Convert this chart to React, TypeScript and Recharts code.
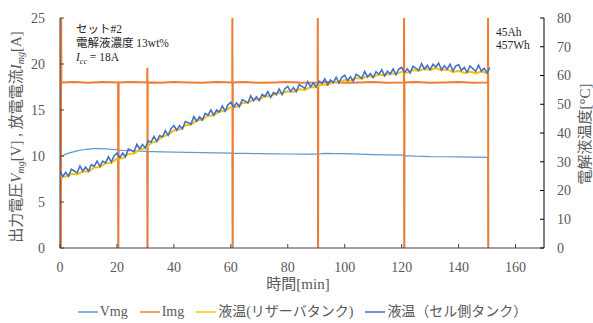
import { LineChart, Line, XAxis, YAxis } from "recharts";

// time [min], value  (output voltage)
const vmgSamples: [number, number][] = [
  [0.5, 9.95], [2, 10.2], [4, 10.4], [6, 10.55], [8, 10.68], [10, 10.75], [12, 10.8],
  [14, 10.8], [16, 10.78], [18, 10.72], [20.4, 10.68], [20.5, 0], [20.6, 10.65],
  [22, 10.62], [25, 10.58], [28, 10.54], [30.6, 10.5], [30.7, 0], [30.8, 10.48],
  [33, 10.47], [36, 10.45], [40, 10.43], [45, 10.4], [50, 10.37], [55, 10.34],
  [60.5, 10.32], [60.6, 0], [60.7, 10.3], [65, 10.29], [70, 10.26], [75, 10.24],
  [80, 10.22], [85, 10.2], [90.5, 10.2], [90.6, 0], [90.7, 10.22], [93, 10.28],
  [97, 10.26], [100, 10.25], [105, 10.2], [110, 10.15], [115, 10.12], [120.8, 10.1],
  [120.9, 0], [121, 10.05], [125, 9.98], [130, 9.93], [135, 9.92], [140, 9.9],
  [145, 9.88], [150.3, 9.85], [150.4, 0],
];

// time [min], value  (discharge current)
const imgSamples: [number, number][] = [
  [0.3, 0], [0.4, 25], [0.5, 18], [5, 18.05], [10, 17.95], [15, 18.05], [20.4, 18],
  [20.5, 0], [20.6, 18], [25, 18.05], [30.6, 18], [30.7, 19.6], [30.75, 0], [30.8, 18],
  [35, 17.95], [40, 18.05], [45, 18], [50, 17.95], [55, 18.05], [60.5, 18], [60.55, 25],
  [60.65, 0], [60.7, 18], [65, 18.05], [70, 17.95], [75, 18], [80, 18.05], [85, 17.95],
  [90.5, 18], [90.55, 25], [90.65, 0], [90.7, 18], [95, 18.05], [100, 17.95], [105, 18],
  [110, 18.05], [115, 17.95], [120.8, 18], [120.85, 25], [120.95, 0], [121, 18],
  [125, 18.05], [130, 17.95], [135, 18], [140, 18.05], [145, 17.95], [150.3, 18],
  [150.35, 25], [150.45, 0],
];

// reservoir tank temperature, logged every 2 min from t=0
const RESERVOIR_STEP = 2;
const reservoirTemp = [
  25.0, 24.8, 25.7, 25.6, 26.6, 26.6, 28.0, 28.1, 29.5, 29.6,
  31.1, 31.2, 32.7, 32.9, 34.3, 34.7, 36.5, 37.1, 38.8, 39.4,
  40.9, 41.2, 42.7, 42.9, 44.4, 44.6, 46.0, 46.2, 47.5, 47.7,
  49.0, 49.1, 50.4, 50.5, 51.7, 51.7, 52.8, 52.8, 53.9, 53.8,
  54.5, 54.3, 55.2, 55.0, 56.0, 55.9, 56.9, 56.7, 57.7, 57.5,
  58.4, 58.2, 59.1, 58.9, 59.8, 59.5, 60.3, 60.0, 60.8, 60.5,
  61.3, 61.0, 61.9, 61.6, 62.4, 61.9, 62.6, 61.8, 62.1, 61.2,
  61.6, 60.9, 61.4, 60.7, 61.4, 60.8,
];

// cell side tank temperature, logged every 1 min from t=0
const CELL_STEP = 1;
const cellTankTemp = [
  26.7, 24.9, 26.3, 25.0, 27.4, 26.8, 26.1, 28.5, 26.8, 28.1,
  26.7, 29.0, 28.4, 30.2, 28.4, 30.2, 29.6, 31.7, 29.9, 32.1,
  33.0, 31.4, 33.0, 31.8, 34.4, 34.0, 33.5, 36.1, 34.5, 36.0,
  34.8, 37.3, 36.8, 38.8, 37.1, 39.1, 38.6, 40.8, 39.2, 41.5,
  42.6, 41.0, 42.6, 41.4, 44.0, 43.6, 43.1, 45.7, 44.1, 45.6,
  44.5, 46.8, 46.2, 48.0, 46.2, 48.0, 47.3, 49.4, 47.6, 49.8,
  50.7, 49.0, 50.5, 49.1, 51.6, 51.1, 50.5, 52.9, 51.2, 52.6,
  51.3, 53.4, 52.7, 54.4, 52.4, 54.1, 53.3, 55.3, 53.3, 55.4,
  56.2, 54.4, 55.8, 54.4, 56.8, 56.2, 55.5, 57.9, 56.1, 57.4,
  56.0, 58.0, 57.2, 58.8, 56.8, 58.4, 57.5, 59.4, 57.4, 59.4,
  60.1, 58.2, 59.6, 58.1, 60.4, 59.8, 59.0, 61.4, 59.5, 60.7,
  59.3, 61.3, 60.4, 62.0, 59.9, 61.5, 60.5, 62.3, 60.3, 62.2,
  62.8, 61.0, 62.3, 60.9, 63.2, 62.5, 61.8, 64.1, 62.2, 63.5,
  62.0, 63.9, 62.9, 64.3, 62.0, 63.4, 62.2, 63.9, 61.6, 63.3,
  63.8, 61.7, 62.8, 61.1, 63.3, 62.4, 61.4, 63.6, 61.5, 62.5,
  60.9, 62.7,
];

const xTicks = [0, 20, 40, 60, 80, 100, 120, 140, 160];
const leftTicks = [0, 5, 10, 15, 20, 25];
const rightTicks = [0, 10, 20, 30, 40, 50, 60, 70, 80];

const legendItems = [
  { name: "Vmg", color: "#5B9BD5" },
  { name: "Img", color: "#ED7D31" },
  { name: "液温(リザーバタンク)", color: "#FFC000" },
  { name: "液温（セル側タンク）", color: "#4472C4" },
];

const FONT = "'Liberation Serif', 'Noto Sans CJK JP', serif";
const GREY = "#595959";

const vmgData = vmgSamples.map(([t, v]) => ({ t, v }));
const imgData = imgSamples.map(([t, v]) => ({ t, v }));
const reservoirData = reservoirTemp.map((v, i) => ({ t: i * RESERVOIR_STEP, v }));
const cellData = cellTankTemp.map((v, i) => ({ t: i * CELL_STEP, v }));

const tick = { fill: GREY, fontSize: 14, fontFamily: FONT };

export default function App() {
  return (
    <div style={{ position: "absolute", left: 0, top: 0, width: 593, height: 323, background: "#fff" }}>
      <LineChart width={593} height={323} margin={{ top: 18, right: 0, bottom: 0, left: 0 }}>
        <XAxis
          dataKey="t"
          type="number"
          domain={[0, 170]}
          ticks={xTicks}
          height={75}
          tick={tick}
          tickSize={-4}
          tickMargin={18}
          stroke="#404040"
          allowDataOverflow
        />
        <YAxis
          yAxisId="left"
          orientation="left"
          type="number"
          domain={[0, 25]}
          ticks={leftTicks}
          width={60}
          tick={tick}
          tickSize={-4}
          tickMargin={19}
          stroke="#404040"
        />
        <YAxis
          yAxisId="right"
          orientation="right"
          type="number"
          domain={[0, 80]}
          ticks={rightTicks}
          width={49}
          tick={{ ...tick, textAnchor: "start" }}
          tickSize={-4}
          tickMargin={17}
          stroke="#000"
        />
        <Line yAxisId="left" data={vmgData} dataKey="v" stroke="#5B9BD5" strokeWidth={1.2} dot={false} isAnimationActive={false} />
        <Line yAxisId="left" data={imgData} dataKey="v" stroke="#ED7D31" strokeWidth={2} dot={false} isAnimationActive={false} />
        <Line yAxisId="right" data={reservoirData} dataKey="v" stroke="#FFC000" strokeWidth={2} dot={false} isAnimationActive={false} />
        <Line yAxisId="right" data={cellData} dataKey="v" stroke="#4472C4" strokeWidth={1.6} dot={false} isAnimationActive={false} />
      </LineChart>

      <svg width={593} height={323} style={{ position: "absolute", left: 0, top: 0, pointerEvents: "none" }} fontFamily={FONT}>
        <g fill="#262626" fontSize={11.5}>
          <text x={76} y={33}>セット#2</text>
          <text x={76} y={47}>電解液濃度 13wt%</text>
          <text x={76} y={61}>
            <tspan fontStyle="italic">I</tspan>
            <tspan fontSize={8} fontStyle="italic" dy={3}>cc</tspan>
            <tspan dy={-3}> = 18A</tspan>
          </text>
          <text x={496} y={36}>45Ah</text>
          <text x={496} y={49}>457Wh</text>
        </g>
        <g fill={GREY} fontSize={15}>
          <text transform="translate(21,137) rotate(-90)" textAnchor="middle">
            出力電圧<tspan fontStyle="italic">V</tspan>
            <tspan fontSize={10} fontStyle="italic" dy={3}>mg</tspan>
            <tspan dy={-3}>[V] , 放電電流</tspan>
            <tspan fontStyle="italic">I</tspan>
            <tspan fontSize={10} fontStyle="italic" dy={3}>mg</tspan>
            <tspan dy={-3}>[A]</tspan>
          </text>
          <text transform="translate(590,134) rotate(-90)" textAnchor="middle">電解液温度[°C]</text>
          <text x={298} y={289} textAnchor="middle">時間[min]</text>
        </g>
      </svg>

      <div
        style={{
          position: "absolute",
          left: 0,
          top: 303,
          width: 593,
          paddingLeft: 12,
          boxSizing: "border-box",
          display: "flex",
          justifyContent: "center",
          gap: 12,
          fontFamily: FONT,
          fontSize: 14,
          color: GREY,
          lineHeight: "18px",
        }}
      >
        {legendItems.map((it) => (
          <span key={it.name} style={{ display: "flex", alignItems: "center" }}>
            <svg width={20} height={10} style={{ marginRight: 2 }}>
              <line x1={0} y1={5} x2={20} y2={5} stroke={it.color} strokeWidth={1.5} />
            </svg>
            {it.name}
          </span>
        ))}
      </div>
    </div>
  );
}
